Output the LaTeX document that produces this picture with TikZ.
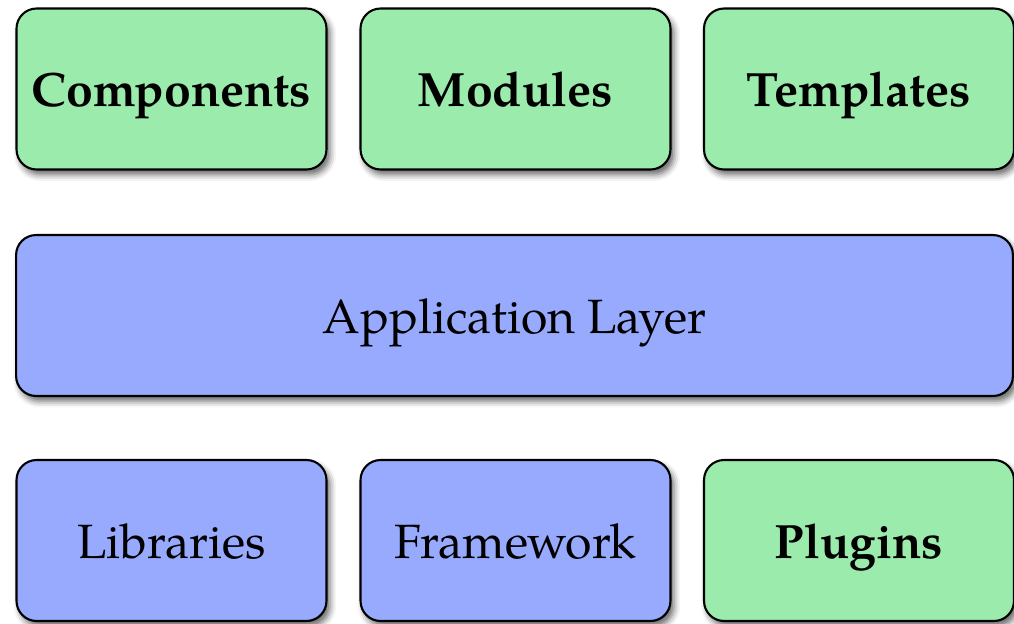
\documentclass[tikz,border=0pt]{standalone}
\usepackage{fontspec}
\setmainfont{TeX Gyre Pagella}
\usetikzlibrary{positioning,shadows,shadows.blur}
\definecolor{modgreen}{RGB}{155,235,172}
\definecolor{layblue}{RGB}{151,170,253}

\begin{document}
\begin{tikzpicture}[x=0.02cm, y=-0.02cm, lbl/.style={font=\fontsize{27.4}{32}\selectfont, text height=0.9cm, text depth=0.2cm}]
\tikzstyle{blk}=[rectangle, rounded corners=0.4cm, draw, line width=1.2pt, minimum width=6.2cm, minimum height=3.22cm, blur shadow={shadow xshift=2pt, shadow yshift=-3pt, shadow blur radius=3.5pt, shadow opacity=60}, lbl]
\tikzstyle{bold}=[font=\fontsize{27.4}{32}\selectfont\bfseries]
\useasboundingbox (0,0) rectangle (1014,623);
\node[blk, bold, fill = modgreen] (comp) at (171.5,89) {Components};
\node[blk, bold, fill = modgreen] (mod) at (515.5,89) {Modules};
\node[blk, bold, fill = modgreen] (tpl) at (859,89) {Templates};
\node[blk, fill = layblue, minimum width=19.94cm] (app) at (514.5,315.5) {Application Layer};
\node[blk, fill = layblue] (lib) at (171.5,540.5) {Libraries};
\node[blk, fill = layblue] (fw) at (515.5,540.5) {Framework};
\node[blk, bold, fill = modgreen] (plug) at (859,540.5) {Plugins};
\end{tikzpicture}
\end{document}
